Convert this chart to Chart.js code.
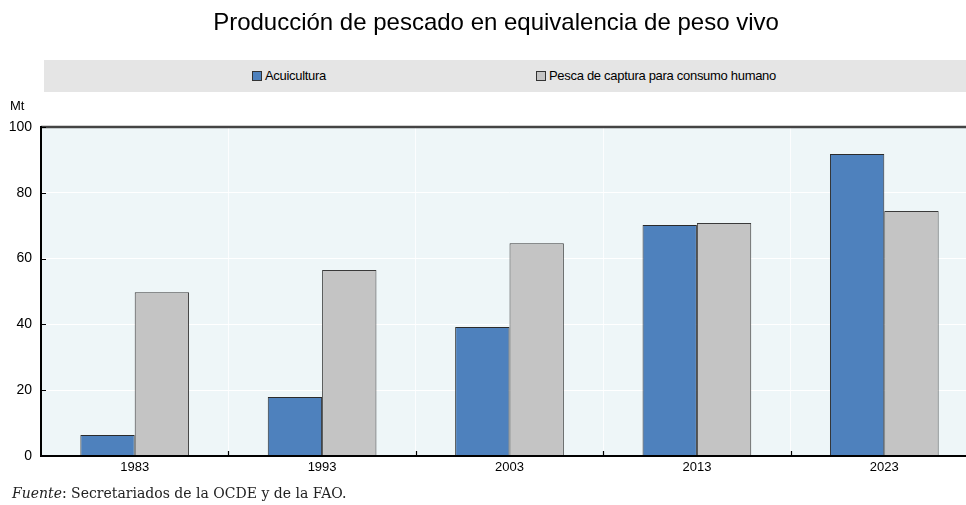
<!DOCTYPE html>
<html>
<head>
<meta charset="utf-8">
<script src="https://cdn.jsdelivr.net/npm/chart.js"></script>
<style>
    body { margin: 0; background: #fff; overflow: hidden; }
    #wrap { position: relative; width: 966px; height: 505px; overflow: hidden; }
    #title { position: absolute; top: 8px; left: 0; width: 992px; text-align: center;
        font-family: "Liberation Sans", Arial, sans-serif; font-size: 24px; color: #000; }
    #legend { position: absolute; top: 60px; left: 44px; width: 922px; height: 32px; background: #e5e5e5;
        font-family: "Liberation Sans Narrow", "Liberation Sans", Arial, sans-serif; font-size: 13px; color: #000; }
    .item { position: absolute; top: 8px; white-space: nowrap; letter-spacing: -0.3px; }
    .box { display: inline-block; width: 8px; height: 8px; border: 1px solid #333; margin-right: 3px; vertical-align: -1px; }
    #unit { position: absolute; top: 98px; left: 10px; font-family: "Liberation Sans Narrow", "Liberation Sans", Arial, sans-serif; font-size: 13px; }
    #source { position: absolute; top: 485px; left: 12px; font-family: "DejaVu Serif", serif; font-size: 14px; color: #222; }
    #chartBox { position: absolute; top: 0; left: 0; width: 978px; height: 505px; }
</style>
</head>
<body>
<div id="wrap">
    <div id="chartBox"><canvas id="fishChart"></canvas></div>
    <div id="title">Producción de pescado en equivalencia de peso vivo</div>
    <div id="legend">
        <span class="item" style="left:208px"><span class="box" style="background:#4e81bd"></span>Acuicultura</span>
        <span class="item" style="left:492px"><span class="box" style="background:#c4c4c4"></span>Pesca de captura para consumo humano</span>
    </div>
    <div id="unit">Mt</div>
    <div id="source"><i>Fuente</i>: Secretariados de la OCDE y de la FAO.</div>
</div>
<script>
const years = ['1983', '1993', '2003', '2013', '2023'];
const acuicultura = [6.4, 17.9, 39.2, 70.2, 91.8];
const pescaCaptura = [49.8, 56.5, 64.7, 70.8, 74.5];
const yTicks = [0, 20, 40, 60, 80, 100];

// fondo del área y marcas de graduación hacia dentro
const plotDeco = {
    id: 'plotDeco',
    beforeDraw(chart) {
        const { ctx, chartArea: a } = chart;
        ctx.save();
        ctx.fillStyle = '#eef6f8';
        ctx.fillRect(a.left, a.top, a.right - a.left, a.bottom - a.top);
        ctx.restore();
    },
    afterDraw(chart) {
        const { ctx, chartArea: a, scales } = chart;
        ctx.save();
        ctx.strokeStyle = '#444';
        ctx.lineWidth = 2.5;
        ctx.beginPath();
        ctx.moveTo(a.left, a.top);
        ctx.lineTo(a.right, a.top);
        ctx.stroke();
        ctx.strokeStyle = '#000';
        ctx.lineWidth = 2;
        ctx.beginPath();
        ctx.moveTo(a.left, a.top - 1);
        ctx.lineTo(a.left, a.bottom);
        ctx.lineTo(a.right, a.bottom);
        ctx.stroke();
        ctx.lineWidth = 1.2;
        ctx.beginPath();
        yTicks.forEach(v => {
            const y = Math.round(scales.y.getPixelForValue(v)) + 0.5;
            ctx.moveTo(a.left, y);
            ctx.lineTo(a.left + 5, y);
        });
        for (let i = 1; i < years.length; i++) {
            const x = Math.round((scales.x.getPixelForValue(i - 1) + scales.x.getPixelForValue(i)) / 2) + 0.5;
            ctx.moveTo(x, a.bottom);
            ctx.lineTo(x, a.bottom - 5);
        }
        ctx.stroke();
        ctx.restore();
    }
};

new Chart(document.getElementById('fishChart'), {
    type: 'bar',
    data: {
        labels: years,
        datasets: [{
            label: 'Acuicultura',
            data: acuicultura,
            backgroundColor: '#4e81bd',
            borderColor: '#2b2b2b',
            borderWidth: 1
        }, {
            label: 'Pesca de captura para consumo humano',
            data: pescaCaptura,
            backgroundColor: '#c4c4c4',
            borderColor: '#3a3a3a',
            borderWidth: 1
        }]
    },
    options: {
        responsive: true,
        maintainAspectRatio: false,
        animation: false,
        layout: { padding: { top: 127, left: 0, right: 0, bottom: 29 } },
        plugins: {
            legend: { display: false },
            tooltip: { enabled: false }
        },
        datasets: { bar: { categoryPercentage: 0.58, barPercentage: 1 } },
        scales: {
            x: {
                grid: { color: 'rgba(255,255,255,0.8)', lineWidth: 1, offset: true, drawTicks: false },
                border: { display: false },
                ticks: { color: '#000', padding: 4, font: { family: '"Liberation Sans Narrow", "Liberation Sans", Arial', size: 13 } },
                afterFit(scale) { scale.height = 20; }
            },
            y: {
                min: 0,
                max: 100,
                grid: { color: '#ffffff', lineWidth: 1, drawTicks: false },
                border: { display: false },
                ticks: {
                    stepSize: 20,
                    color: '#000',
                    padding: 9,
                    font: { family: '"Liberation Sans Narrow", "Liberation Sans", Arial', size: 14 }
                },
                afterFit(scale) { scale.width = 41; }
            }
        }
    },
    plugins: [plotDeco]
});
</script>
</body>
</html>
